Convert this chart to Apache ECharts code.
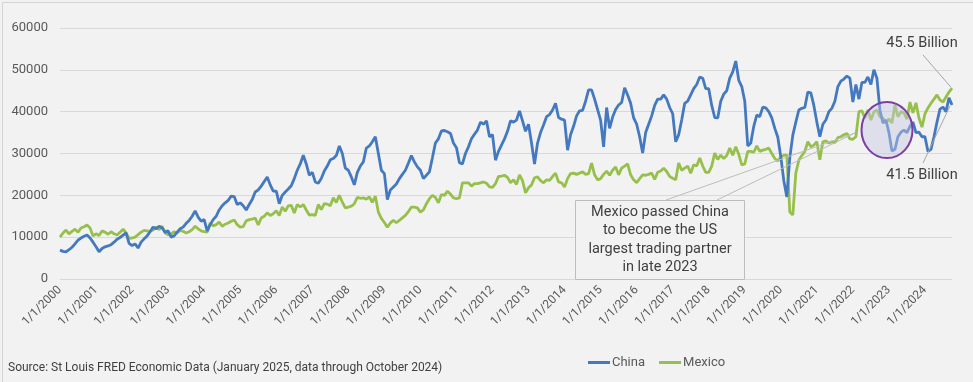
<!DOCTYPE html>
<html>
<head>
<meta charset="utf-8">
<script src="https://cdn.jsdelivr.net/npm/echarts@6/dist/echarts.min.js"></script>
<style>
html,body{margin:0;padding:0;background:#ffffff;}
#chart{width:973px;height:382px;}
</style>
</head>
<body>
<div id="chart"></div>
<script>
// Monthly US goods imports (millions USD), Jan 2000 - Oct 2024
var startYear = 2000;
var china = [
6900,6600,6500,7000,7600,8400,9300,9800,10200,10500,9800,8800,
7700,6500,7300,7700,7900,8200,8800,9500,9900,10500,11000,8500,
8000,8400,7400,8800,9600,10300,11300,12400,12000,12600,12200,11200,
11500,10000,10300,11200,12000,12400,13300,14000,15000,16300,14800,13800,
14200,11500,13000,14200,15000,16500,17500,18200,18800,19800,19700,17800,
18200,17500,16500,17800,19000,20800,21300,22200,23300,24400,22500,21000,
21000,18000,20000,20800,21500,22300,24000,26000,27500,29600,27500,24800,
25500,23200,22900,24000,25800,27000,28500,28800,29500,31800,30000,26500,
26000,24400,22500,25500,27000,28000,31300,31800,32800,34000,30000,26000,
25200,19000,21300,22000,22700,24000,25000,26000,27700,29500,28000,26800,
26000,24000,24800,25600,29000,32500,33500,35400,35500,35200,34800,32500,
31400,27800,27500,30000,31600,33500,34600,35600,37500,37000,37800,34000,
34500,28400,30500,32000,33500,35300,37800,37500,38000,40200,37800,35300,
37000,32500,27500,32500,35000,36800,38800,39300,40400,42000,38600,38200,
38000,30800,34500,36500,39000,40200,40300,42500,45200,45200,43000,40500,
38000,31600,41000,36000,38700,40500,41600,42200,45700,44000,42000,38500,
37000,34000,30100,35000,37000,39000,41500,43000,43000,44000,43000,41000,
39500,32800,34500,38000,42000,42500,44000,45500,46500,48300,48000,45500,
45500,41500,38600,38500,42500,44200,45000,48000,49500,52100,47500,46000,
42500,31800,32500,36500,39200,38800,41100,40900,40000,38500,36000,33900,
29200,23500,19600,29000,34400,37500,40400,40800,41000,44700,44500,41500,
37500,34000,37000,38000,40000,40800,42500,46000,47300,47800,48500,48000,
42300,46500,43000,47000,47000,48300,46500,50000,48000,40400,37300,38000,
35000,30600,31000,34000,35100,35600,35000,36500,37500,35000,35100,34000,
34000,30500,31000,34000,37500,40600,41100,40000,43300,41600
];
var mexico = [
10000,11000,11700,10800,11400,11900,11200,12200,12500,12900,12200,10300,
10800,10400,11500,11200,10700,11300,10800,10500,11200,11900,11000,9700,
9800,10000,10600,11200,11600,11500,11400,11700,12400,11800,12600,11000,
10600,10800,11300,11000,11600,11400,11000,11300,11800,12600,12000,11500,
11300,11200,13400,12700,13000,13600,12600,13100,13400,13800,14100,13000,
12400,12500,13900,14200,14300,14600,12900,14600,15000,15800,15200,15600,
16300,15200,17200,16200,17500,17600,15800,17800,17200,17800,16500,15300,
15400,15200,17800,16600,18000,17900,17500,19400,18300,20000,18400,17000,
17200,17400,18000,19500,19300,19400,19100,19600,18300,19800,16000,14500,
13500,12400,13400,14000,13500,14000,14600,15200,16100,17200,17200,17000,
16000,16500,18000,19200,20000,19500,18200,20200,20000,21000,20300,19400,
19200,19400,23000,23000,23000,22200,22800,22800,23000,23200,22900,22000,
21900,22800,24500,24600,24800,24300,23000,23700,22600,24900,23500,20600,
21800,22500,24200,24400,23500,23000,23700,23600,24500,25300,23200,23000,
22000,24000,25200,25300,25000,25300,25600,25000,25200,27700,24900,23700,
24000,25000,25800,24800,26000,26800,24900,26500,27000,27500,24900,23700,
23000,24000,24900,24800,25000,25300,23800,25500,25800,26500,25700,24500,
24100,23700,27700,26000,26500,27000,25300,27300,27000,28900,27000,25500,
25500,27000,30100,28600,29600,28800,29500,31300,29600,31600,29800,27300,
27500,30500,30500,30300,31800,30500,30800,31000,31300,30000,28800,28200,
29200,29600,29600,16000,15300,25300,28400,29500,30500,32800,31600,32000,
32800,28500,32800,33000,32500,32800,32600,33800,34000,34500,34800,33500,
33400,34000,40000,40200,38500,40400,38000,40000,40400,38800,38500,37300,
38300,37300,41600,38800,40000,39700,38200,42300,39700,42100,38500,36300,
39500,40900,42000,43000,44000,42800,42300,43500,44700,45600
];
var seriesNames = ['China', 'Mexico'];
var yTicks = [0, 10000, 20000, 30000, 40000, 50000, 60000];
var endLabels = ['45.5 Billion', '41.5 Billion'];
var noteLines = ['Mexico passed China', 'to become the US', 'largest trading partner', 'in late 2023'];
var sourceText = 'Source: St Louis FRED Economic Data (January 2025, data through October 2024)';

var categories = [];
for (var i = 0; i < china.length; i++) {
  var y = startYear + Math.floor(i / 12), m = (i % 12) + 1;
  categories.push(m + '/1/' + y);
}

var chart = echarts.init(document.getElementById('chart'), null, {renderer: 'canvas'});
var FONT = 'Roboto, "Noto Sans", sans-serif';
var option = {
  backgroundColor: '#f2f2f2',
  animation: false,
  textStyle: {fontFamily: FONT},
  grid: {left: 60, right: 21, top: 28, bottom: 103, containLabel: false},
  legend: {
    data: seriesNames,
    left: 583, top: 351,
    itemWidth: 22, itemHeight: 3, itemGap: 14,
    icon: 'rect',
    textStyle: {color: '#595959', fontSize: 13, fontFamily: FONT, padding: [0,0,0,-3]}
  },
  xAxis: {
    type: 'category',
    data: categories,
    boundaryGap: false,
    axisLine: {show: true, lineStyle: {color: '#d9d9d9', width: 1}},
    axisTick: {show: false},
    axisLabel: {interval: 11, rotate: 45, color: '#595959', fontSize: 12, margin: 9, fontFamily: FONT},
    splitLine: {show: false}
  },
  yAxis: {
    type: 'value',
    min: yTicks[0], max: yTicks[yTicks.length - 1], interval: yTicks[1] - yTicks[0],
    axisLine: {show: false},
    axisTick: {show: false},
    axisLabel: {color: '#595959', fontSize: 13, margin: 12, fontFamily: FONT,
                formatter: function (v) { return String(v); }},
    splitLine: {lineStyle: {color: '#d9d9d9', width: 1}}
  },
  series: [
    {name: seriesNames[0], type: 'line', data: china, showSymbol: false, symbol: 'none',
     lineStyle: {color: '#4479bf', width: 2.8}, itemStyle: {color: '#4479bf'}, z: 3},
    {name: seriesNames[1], type: 'line', data: mexico, showSymbol: false, symbol: 'none',
     lineStyle: {color: '#96c04b', width: 2.8}, itemStyle: {color: '#96c04b'}, z: 2}
  ]
};
chart.setOption(option);

var last = china.length - 1;
var pMx = chart.convertToPixel({gridIndex: 0}, [last, mexico[last]]);
var pCn = chart.convertToPixel({gridIndex: 0}, [last, china[last]]);

var g = [
  {type: 'rect', left: 0, top: 0, shape: {x: 0.5, y: 0.5, width: 972, height: 381},
   style: {fill: 'none', stroke: '#d4d4d4', lineWidth: 1}, silent: true, z: 0},
  // callout wedge
  {type: 'polyline', shape: {points: [[666, 200], [855, 133], [717, 200]]},
   style: {fill: null, stroke: '#bdbdbd', lineWidth: 1}, z: 10},
  {type: 'rect', shape: {x: 575.5, y: 200.5, width: 169, height: 79},
   style: {fill: '#f2f2f2', stroke: '#bdbdbd', lineWidth: 1}, z: 11},
  {type: 'text', x: 660, y: 240, z: 12,
   style: {text: noteLines.join('\n'), fill: '#404040', font: '14.5px ' + FONT,
           align: 'center', verticalAlign: 'middle', lineHeight: 18.5}},
  // circle
  {type: 'ellipse', shape: {cx: 887, cy: 130, rx: 25.5, ry: 28},
   style: {fill: 'rgba(200,200,228,0.45)', stroke: '#7b3fa3', lineWidth: 2}, z: 10},
  // end labels
  {type: 'text', x: 922, y: 43, z: 12,
   style: {text: endLabels[0], fill: '#404040', font: '14.5px ' + FONT, align: 'center', verticalAlign: 'middle'}},
  {type: 'line', shape: {x1: 923, y1: 55, x2: pMx[0] - 1, y2: pMx[1] - 1},
   style: {stroke: '#a6a6a6', lineWidth: 1}, z: 12},
  {type: 'text', x: 922, y: 175, z: 12,
   style: {text: endLabels[1], fill: '#404040', font: '14.5px ' + FONT, align: 'center', verticalAlign: 'middle'}},
  {type: 'line', shape: {x1: 923, y1: 163, x2: pCn[0] - 2, y2: pCn[1] + 1},
   style: {stroke: '#a6a6a6', lineWidth: 1}, z: 12},
  // source
  {type: 'text', x: 8, y: 368, z: 12,
   style: {text: sourceText, fill: '#404040', font: '12px ' + FONT, align: 'left', verticalAlign: 'middle'}}
];
chart.setOption({graphic: g});
</script>
</body>
</html>
